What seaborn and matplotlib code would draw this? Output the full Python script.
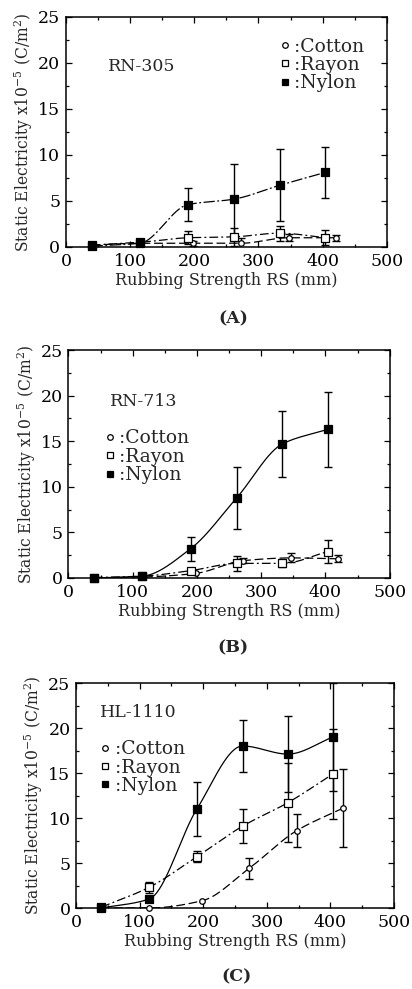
import numpy as np
import matplotlib
matplotlib.use("Agg")
import matplotlib.pyplot as plt
import seaborn as sns
from matplotlib.ticker import MultipleLocator
from matplotlib.lines import Line2D

# rubbing strength RS (mm) of the measuring points
rs_main = [40, 115, 190, 262, 333, 404]      # rayon + nylon
rs_cotton = [40, 115, 198, 272, 347, 420]    # cotton sits a bit to the right

# static electricity x1e-5 (C/m2), panel A  RN-305
a_cotton = [0.2, 0.4, 0.4, 0.4, 1.0, 1.0]
a_cotton_err = [0, 0, 0.3, 0.6, 0.4, 0.3]
a_rayon = [0.2, 0.5, 1.0, 1.1, 1.5, 1.0]
a_rayon_err = [0, 0.1, 0.7, 1.0, 0.8, 0.8]
a_nylon = [0.1, 0.4, 4.6, 5.2, 6.7, 8.1]
a_nylon_err = [0, 0, 1.8, 3.8, 3.9, 2.8]

# panel B  RN-713
b_cotton = [0.0, 0.1, 0.5, 1.9, 2.2, 2.1]
b_cotton_err = [0, 0, 0, 0.3, 0.5, 0.4]
b_rayon = [0.05, 0.2, 0.8, 1.6, 1.6, 2.9]
b_rayon_err = [0, 0, 0.2, 0.8, 0.4, 1.25]
b_nylon = [0.0, 0.2, 3.2, 8.8, 14.7, 16.3]
b_nylon_err = [0, 0, 1.3, 3.4, 3.6, 4.1]

# panel C  HL-1110
c_cotton = [0.0, 0.0, 0.8, 4.4, 8.6, 11.1]
c_cotton_err = [0, 0, 0, 1.2, 1.8, 4.3]
c_rayon = [0.1, 2.3, 5.7, 9.1, 11.7, 14.9]
c_rayon_err = [0, 0.6, 0.6, 1.9, 4.4, 5.0]
c_nylon = [0.0, 1.0, 11.0, 18.0, 17.1, 19.0]
c_nylon_err = [0, 0, 3.0, 2.9, 4.2, 6.0]

fabric_labels = [":Cotton", ":Rayon", ":Nylon"]
sample_names = ["RN-305", "RN-713", "HL-1110"]
panel_tags = ["(A)", "(B)", "(C)"]


def smooth(x, y, n=300):
    # monotone cubic (pchip) so the curve goes through the points like the paper's
    x = np.asarray(x, float)
    y = np.asarray(y, float)
    h = np.diff(x)
    d = np.diff(y) / h
    m = np.zeros_like(y)
    for k in range(1, len(x) - 1):
        if d[k - 1] * d[k] > 0:
            w1 = 2 * h[k] + h[k - 1]
            w2 = h[k] + 2 * h[k - 1]
            m[k] = (w1 + w2) / (w1 / d[k - 1] + w2 / d[k])
    m[0] = d[0]
    m[-1] = d[-1]
    xs = np.linspace(x[0], x[-1], n)
    i = np.clip(np.searchsorted(x, xs) - 1, 0, len(h) - 1)
    t = (xs - x[i]) / h[i]
    ys = ((2 * t**3 - 3 * t**2 + 1) * y[i] + (t**3 - 2 * t**2 + t) * h[i] * m[i]
          + (-2 * t**3 + 3 * t**2) * y[i + 1] + (t**3 - t**2) * h[i] * m[i + 1])
    return xs, ys


sns.set_style("ticks")
plt.rcParams["font.family"] = ["DejaVu Serif"]
plt.rcParams["mathtext.fontset"] = "dejavuserif"

fig = plt.figure(figsize=(4.12, 9.89), dpi=100)
boxes = [[0.160, 0.7503, 0.779, 0.2326],
         [0.166, 0.4156, 0.780, 0.2305],
         [0.1845, 0.0819, 0.772, 0.2275]]

panels = [
    (a_cotton, a_cotton_err, a_rayon, a_rayon_err, a_nylon, a_nylon_err),
    (b_cotton, b_cotton_err, b_rayon, b_rayon_err, b_nylon, b_nylon_err),
    (c_cotton, c_cotton_err, c_rayon, c_rayon_err, c_nylon, c_nylon_err),
]
name_pos = [(65, 19.6), (64, 19.3), (37, 21.7)]
leg_pos = [(0.665, 0.91), (0.112, 0.652), (0.074, 0.746)]
tag_pos = [(0.566, 0.678), (0.566, 0.345), (0.575, 0.012)]
nylon_ls = [(0, (9, 2, 1.5, 2)), "-", "-"]

for p in range(3):
    ax = fig.add_axes(boxes[p])
    cot, cot_e, ray, ray_e, nyl, nyl_e = panels[p]

    # curves
    xs, ys = smooth(rs_cotton, cot)
    sns.lineplot(x=xs, y=ys, ax=ax, color="k", lw=0.9, linestyle=(0, (7, 3)))
    xs, ys = smooth(rs_main, ray)
    sns.lineplot(x=xs, y=ys, ax=ax, color="k", lw=0.9, linestyle=(0, (7, 2.5, 1.5, 2.5)))
    xs, ys = smooth(rs_main, nyl)
    sns.lineplot(x=xs, y=ys, ax=ax, color="k", lw=0.9, linestyle=nylon_ls[p])

    # error bars
    for xv, yv, ev in [(rs_cotton, cot, cot_e), (rs_main, ray, ray_e), (rs_main, nyl, nyl_e)]:
        xv, yv, ev = np.array(xv), np.array(yv), np.array(ev)
        k = ev > 0
        ax.errorbar(xv[k], yv[k], yerr=ev[k], fmt="none", ecolor="k",
                    elinewidth=1.0, capsize=2.8, capthick=1.0, zorder=2)

    # markers
    ax.scatter(rs_cotton, cot, marker="o", s=16, facecolor="white", edgecolor="k",
               linewidth=0.9, zorder=4, clip_on=False)
    ax.scatter(rs_main, ray, marker="s", s=30, facecolor="white", edgecolor="k",
               linewidth=0.9, zorder=4, clip_on=False)
    ax.scatter(rs_main, nyl, marker="s", s=30, facecolor="k", edgecolor="k",
               linewidth=0.9, zorder=5, clip_on=False)

    ax.set_xlim(0, 500)
    ax.set_ylim(0, 25)
    ax.xaxis.set_major_locator(MultipleLocator(100))
    ax.xaxis.set_minor_locator(MultipleLocator(50))
    ax.yaxis.set_major_locator(MultipleLocator(5))
    ax.yaxis.set_minor_locator(MultipleLocator(2.5))
    ax.tick_params(which="both", direction="in", top=True, right=True, colors="k",
                   labelsize=12.5, width=0.9)
    ax.tick_params(which="major", length=4)
    ax.tick_params(which="minor", length=2.5)
    ax.tick_params(axis="x", pad=4)
    ax.tick_params(axis="y", pad=4)
    for s in ax.spines.values():
        s.set_color("k")
        s.set_linewidth(1.1)

    ax.set_xlabel("Rubbing Strength RS (mm)", fontsize=11.5, labelpad=2)
    ax.set_ylabel(r"Static Electricity x10$^{-5}$ (C/m$^2$)", fontsize=11.2, labelpad=2)

    ax.text(name_pos[p][0], name_pos[p][1], sample_names[p], fontsize=12.5,
            ha="left", va="center")

    handles = [
        Line2D([], [], ls="none", marker="o", ms=4, mfc="white", mec="k", mew=0.9),
        Line2D([], [], ls="none", marker="s", ms=5, mfc="white", mec="k", mew=0.9),
        Line2D([], [], ls="none", marker="s", ms=5, mfc="k", mec="k", mew=0.9),
    ]
    ax.legend(handles, fabric_labels, loc="upper left", bbox_to_anchor=leg_pos[p],
              frameon=False, fontsize=13.5, handlelength=0.6, handletextpad=0.2,
              labelspacing=0.02, borderpad=0, borderaxespad=0)

    fig.text(tag_pos[p][0], tag_pos[p][1], panel_tags[p], fontsize=12.5,
             fontweight="bold", ha="center", va="center")

fig.savefig("out.png", dpi=100)
